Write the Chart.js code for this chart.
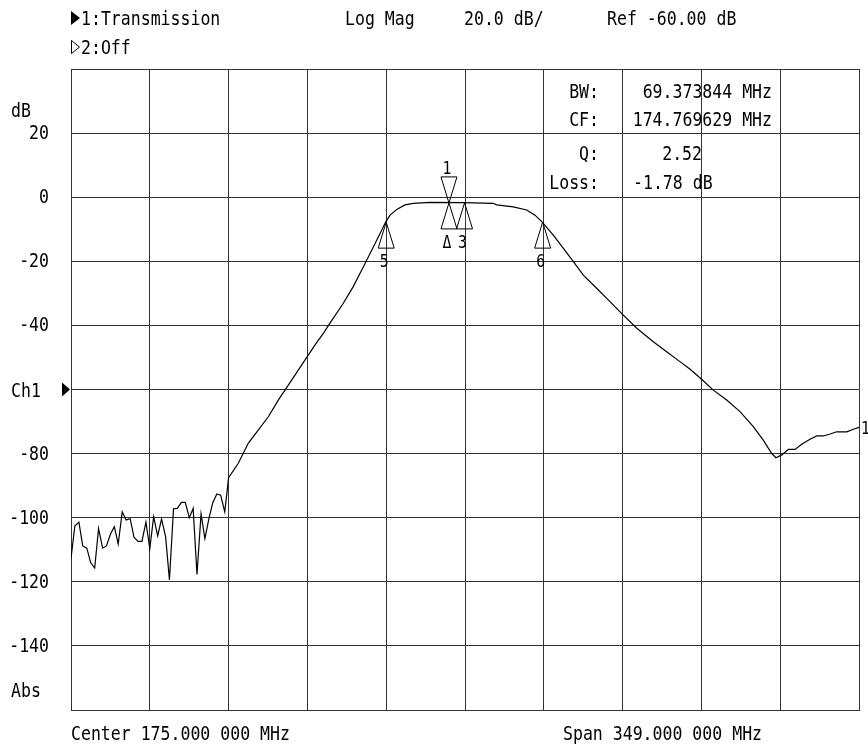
<!DOCTYPE html>
<html lang="en">
<head>
<meta charset="UTF-8">
<title>Transmission - Log Mag</title>
<script src="https://cdn.jsdelivr.net/npm/chart.js"></script>
<style>
  body { margin: 0; background: #fff; }
  canvas { display: block; }
</style>
</head>
<body>
<canvas id="vna" width="868" height="751"></canvas>
<script>
// sweep: center 175 MHz, span 349 MHz
const traceFreq = [
  0.5, 2.2, 4.0, 5.7, 7.5, 9.2, 11.0, 12.7, 14.5, 16.2, 18.0, 19.7, 21.4, 23.2, 24.9,
  26.7, 28.4, 30.2, 31.9, 33.7, 35.4, 37.1, 38.9, 40.6, 42.4, 44.1, 45.9, 47.6, 49.4,
  51.1, 52.9, 54.6, 56.3, 58.1, 59.8, 61.6, 63.3, 65.1, 66.8, 68.6, 70.3,
  74.6, 79.0, 83.5, 87.9, 92.3, 99.7, 104.9, 108.6, 112.7, 115.2, 121.1, 125.5, 130.0,
  135.9, 140.0, 141.8, 144.8, 148.4, 152.1, 159.5, 174.3, 187.5, 189.0, 196.4, 202.3,
  206.0, 209.0, 214.1, 218.5, 223.0, 227.4, 233.3, 239.2, 245.1, 251.1, 258.4, 264.3,
  270.2, 274.7, 279.8, 285.0, 290.9, 296.8, 302.7, 307.1, 310.8, 312.7, 315.3, 318.2,
  321.2, 324.1, 327.8, 330.8, 333.7, 336.7, 339.6, 344.1, 347.0, 349.5
];
const traceLevel = [
  -112.7, -102.6, -101.4, -108.8, -109.5, -114.0, -115.7, -103.4, -109.5, -108.8, -105.1, -102.8, -108.2, -98.2, -100.7,
  -100.3, -106.1, -107.4, -107.4, -101.4, -109.7, -99.7, -105.7, -100.4, -105.9, -119.4, -97.2, -97.1, -95.2,
  -95.2, -100.0, -97.1, -117.7, -98.8, -106.5, -100.2, -95.3, -92.6, -93.0, -98.2, -87.5,
  -83.0, -76.8, -72.6, -68.5, -63.3, -55.5, -50.0, -46.1, -42.0, -39.3, -33.1, -27.9, -21.7,
  -13.4, -7.6, -5.6, -3.8, -2.4, -1.9, -1.6, -1.7, -1.9, -2.4, -3.0, -4.0,
  -5.6, -7.6, -11.8, -15.9, -20.1, -24.3, -28.4, -32.6, -36.8, -40.9, -45.1, -48.2,
  -51.3, -53.7, -56.8, -60.2, -63.3, -66.9, -71.6, -75.8, -79.9, -81.3, -80.4, -78.7,
  -78.7, -77.1, -75.5, -74.5, -74.5, -73.9, -73.2, -73.2, -72.4, -71.8
];

const xGrid = [0.5, 35.4, 70.3, 105.2, 140.1, 175.0, 209.9, 244.8, 279.7, 314.6, 349.5];
const yGrid = [40, 20, 0, -20, -40, -60, -80, -100, -120, -140, -160];
const yLabelValues = [20, 0, -20, -40, -80, -100, -120, -140];
const yLabelText = ['20', '0', '-20', '-40', '-80', '-100', '-120', '-140'];
const refLevel = -60;

const markerName = ['1', 'Δ', '3', '5', '6'];
const markerFreq = [167.9, 167.9, 174.8, 140.1, 209.4];
const markerLevel = [-1.78, -1.78, -1.78, -7.78, -7.78];

const readoutName = ['BW:', 'CF:', 'Q:', 'Loss:'];
const readoutValue = ['69.373844 MHz', '174.769629 MHz', '2.52', '-1.78 dB'];

const FONT = '"DejaVu Sans Mono", "Liberation Mono", monospace';
const SX = 0.87;

function txt(ctx, s, x, y, align, size) {
  size = size || 19;
  ctx.save();
  ctx.font = size + 'px ' + FONT;
  ctx.textAlign = align || 'left';
  ctx.textBaseline = 'alphabetic';
  ctx.fillStyle = '#000';
  ctx.translate(x, y + size * 0.365);
  ctx.scale(SX, 1);
  ctx.fillText(s, 0, 0);
  ctx.restore();
}

function tri(ctx, x1, y1, x2, y2, x3, y3, fill) {
  ctx.beginPath();
  ctx.moveTo(x1, y1);
  ctx.lineTo(x2, y2);
  ctx.lineTo(x3, y3);
  ctx.closePath();
  if (fill) ctx.fill(); else ctx.stroke();
}

const screenText = {
  id: 'screenText',
  beforeDraw(chart) {
    const c = chart.ctx;
    c.save();
    c.fillStyle = '#fff';
    c.fillRect(0, 0, chart.width, chart.height);
    c.restore();
  },
  afterDraw(chart) {
    const c = chart.ctx;
    const xs = chart.scales.x, ys = chart.scales.y;
    c.save();
    c.fillStyle = '#000';
    c.strokeStyle = '#000';
    c.lineWidth = 1;

    // header
    tri(c, 71, 11, 80, 18, 71, 25, true);
    txt(c, '1:Transmission', 81, 18);
    tri(c, 71.5, 40.5, 79.5, 47, 71.5, 53.5, false);
    txt(c, '2:Off', 81, 47);
    txt(c, 'Log Mag', 345, 18);
    txt(c, '20.0 dB/', 464, 18);
    txt(c, 'Ref -60.00 dB', 607, 18);

    // y axis labels
    txt(c, 'dB', 11, 110);
    yLabelValues.forEach((v, i) => txt(c, yLabelText[i], 49, ys.getPixelForValue(v) - 1, 'right'));
    const ry = ys.getPixelForValue(refLevel);
    txt(c, 'Ch1', 11, ry + 1);
    tri(c, 62, ry - 7, 70, ry, 62, ry + 7, true);
    txt(c, 'Abs', 11, 690);

    // footer
    txt(c, 'Center 175.000 000 MHz', 71, 733);
    txt(c, 'Span 349.000 000 MHz', 563, 733);

    // readout
    txt(c, readoutName[0], 599, 91, 'right');
    txt(c, readoutValue[0], 772, 91, 'right');
    txt(c, readoutName[1], 599, 119, 'right');
    txt(c, readoutValue[1], 772, 119, 'right');
    txt(c, readoutName[2], 599, 153, 'right');
    txt(c, readoutValue[2], 702, 153, 'right');
    txt(c, readoutName[3], 599, 182, 'right');
    txt(c, readoutValue[3], 633, 182, 'left');

    // markers
    markerName.forEach((name, i) => {
      const x = xs.getPixelForValue(markerFreq[i]);
      const y = ys.getPixelForValue(markerLevel[i]);
      if (name === '1') {
        tri(c, x, y, x - 8, y - 26, x + 8, y - 26, false);
        txt(c, name, x - 2, y - 35, 'center', 17);
      } else {
        tri(c, x, y, x - 8, y + 26, x + 8, y + 26, false);
        txt(c, name, x - 2, y + 39, 'center', 17);
      }
    });

    // trace end tag
    const endY = ys.getPixelForValue(traceLevel[traceLevel.length - 1]);
    txt(c, '1', 861, endY, 'left', 17);
    c.restore();
  }
};

const gridStyle = { color: '#333', lineWidth: 1, drawTicks: false };

new Chart(document.getElementById('vna'), {
  type: 'scatter',
  data: {
    datasets: [{
      data: traceFreq.map((f, i) => ({ x: f, y: traceLevel[i] })),
      showLine: true,
      borderColor: '#000',
      borderWidth: 1.2,
      pointRadius: 0,
      tension: 0
    }]
  },
  options: {
    responsive: false,
    animation: false,
    layout: { padding: { left: 71, right: 9, top: 69, bottom: 41 } },
    plugins: { legend: { display: false }, tooltip: { enabled: false } },
    scales: {
      x: {
        type: 'linear', min: xGrid[0], max: xGrid[xGrid.length - 1],
        afterBuildTicks: s => { s.ticks = xGrid.map(v => ({ value: v })); },
        ticks: { display: false },
        grid: gridStyle,
        border: { display: true, color: '#333' }
      },
      y: {
        type: 'linear', min: yGrid[yGrid.length - 1], max: yGrid[0],
        afterBuildTicks: s => { s.ticks = yGrid.slice().reverse().map(v => ({ value: v })); },
        ticks: { display: false },
        grid: gridStyle,
        border: { display: true, color: '#333' }
      }
    }
  },
  plugins: [screenText]
});
</script>
</body>
</html>
